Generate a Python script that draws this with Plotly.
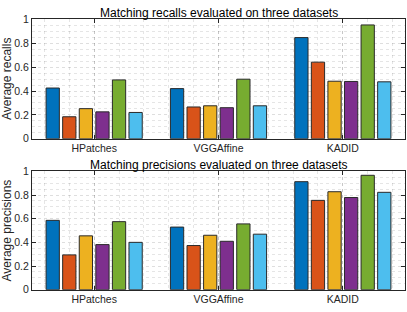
import plotly.graph_objects as go

datasets = ["HPatches", "VGGAffine", "KADID"]

recall_m1 = [0.425, 0.420, 0.848]
recall_m2 = [0.184, 0.266, 0.642]
recall_m3 = [0.252, 0.276, 0.482]
recall_m4 = [0.225, 0.260, 0.480]
recall_m5 = [0.493, 0.499, 0.954]
recall_m6 = [0.220, 0.276, 0.477]

prec_m1 = [0.586, 0.529, 0.913]
prec_m2 = [0.294, 0.373, 0.755]
prec_m3 = [0.455, 0.460, 0.828]
prec_m4 = [0.381, 0.409, 0.779]
prec_m5 = [0.575, 0.556, 0.967]
prec_m6 = [0.400, 0.469, 0.823]

recall_series = [recall_m1, recall_m2, recall_m3, recall_m4, recall_m5, recall_m6]
prec_series = [prec_m1, prec_m2, prec_m3, prec_m4, prec_m5, prec_m6]
colors = ["#0072BD", "#D95319", "#EDB120", "#7E2F8E", "#77AC30", "#4DBEEE"]

titles = ["Matching recalls evaluated on three datasets",
          "Matching precisions evaluated on three datasets"]
ylabels = ["Average recalls", "Average precisions"]

W, H = 407, 312
x_pos = [i + 1 for i in range(len(datasets))]

fig = go.Figure()
FONT = "Liberation Sans, Arial, sans-serif"
axcol = "#262626"

# pixel layout
left, right = 32, 405
panels = [(14, 138), (172, 295)]
title_y = [7, 165]

for p, series in enumerate([recall_series, prec_series]):
    xa = "x" if p == 0 else "x2"
    ya = "y" if p == 0 else "y2"
    for k, vals in enumerate(series):
        fig.add_trace(go.Bar(
            x=x_pos, y=vals, xaxis=xa, yaxis=ya,
            marker=dict(color=colors[k], line=dict(color="#2a2a2a", width=1)),
            showlegend=False, name="Method %d" % (k + 1)))

def axis_common():
    return dict(showline=True, linecolor=axcol, linewidth=1, mirror="ticks",
                ticks="inside", ticklen=4, tickcolor=axcol,
                tickfont=dict(family=FONT, size=10.5, color=axcol),
                zeroline=False, gridcolor="rgba(0,0,0,0.13)", griddash="dot",
                gridwidth=1)

for p in range(2):
    top, bot = panels[p]
    xd = [left / W, right / W]
    yd = [1 - bot / H, 1 - top / H]
    xaxis = axis_common()
    xaxis.update(domain=xd, range=[0.5, 3.5], tickvals=x_pos, ticktext=datasets,
                 showgrid=True,
                 minor=dict(dtick=0.2, tick0=0, showgrid=True, gridcolor="rgba(0,0,0,0.10)",
                            griddash="dot", gridwidth=1))
    yaxis = axis_common()
    yaxis.update(domain=yd, range=[0, 1], dtick=0.2, tickformat="~g",
                 showgrid=True,
                 minor=dict(dtick=0.05, showgrid=True, gridcolor="rgba(0,0,0,0.10)",
                            griddash="dot", gridwidth=1))
    if p == 0:
        xaxis["anchor"] = "y"
        yaxis["anchor"] = "x"
        fig.update_layout(xaxis=xaxis, yaxis=yaxis)
    else:
        xaxis["anchor"] = "y2"
        yaxis["anchor"] = "x2"
        fig.update_layout(xaxis2=xaxis, yaxis2=yaxis)
    fig.add_annotation(text=titles[p], x=(left + right) / 2 / W, y=1 - title_y[p] / H,
                       xref="paper", yref="paper", xanchor="center", yanchor="middle",
                       showarrow=False, font=dict(family=FONT, size=12, color="#000"))
    fig.add_annotation(text=ylabels[p], x=7 / W, y=1 - (top + bot) / 2 / H,
                       xref="paper", yref="paper", xanchor="center", yanchor="middle",
                       textangle=-90, showarrow=False,
                       font=dict(family=FONT, size=12, color=axcol))

fig.update_layout(width=W, height=H, margin=dict(l=0, r=0, t=0, b=0),
                  barmode="group", bargap=0.2, bargroupgap=0.2,
                  plot_bgcolor="white", paper_bgcolor="white")

fig.write_html("out.html", config={"displayModeBar": False},
               post_script="document.body.style.margin='0px';document.body.style.overflow='hidden';")
